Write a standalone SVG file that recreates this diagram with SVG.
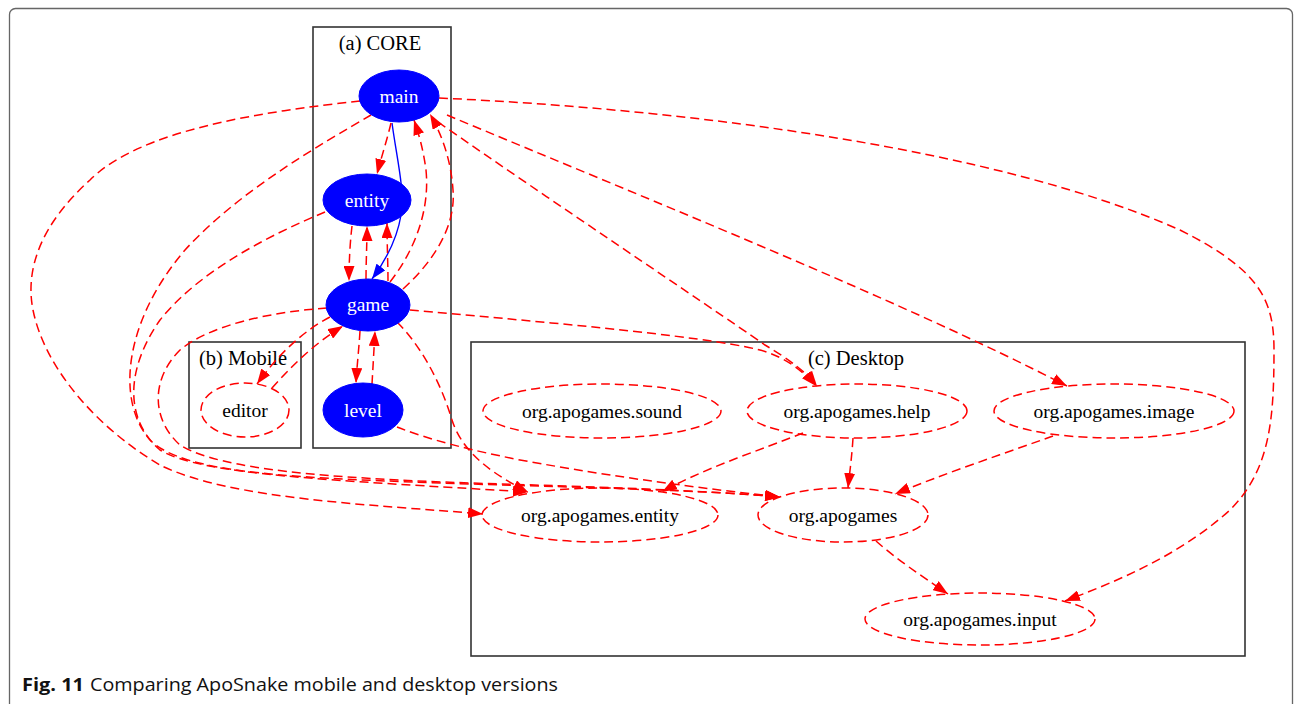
<svg xmlns="http://www.w3.org/2000/svg" width="1295" height="704" viewBox="0 0 1295 704">
<defs>
<marker id="ar" markerUnits="userSpaceOnUse" markerWidth="15" markerHeight="11" viewBox="0 0 15 11" refX="15" refY="5.5" orient="auto"><path d="M0,0 L15,5.5 L0,11 z" fill="#ff0000"/></marker>
<marker id="ab" markerUnits="userSpaceOnUse" markerWidth="15" markerHeight="11" viewBox="0 0 15 11" refX="15" refY="5.5" orient="auto"><path d="M0,0 L15,5.5 L0,11 z" fill="#0000ff"/></marker>
<style>
.e{fill:none;stroke:#ff0000;stroke-width:1.5;stroke-dasharray:9,5;marker-end:url(#ar)}
.b{fill:none;stroke:#0000ff;stroke-width:1.4;marker-end:url(#ab)}
.cl{fill:none;stroke:#333;stroke-width:1.6}
.nb{fill:#0000ff;stroke:#0000ff}
.nd{fill:none;stroke:#ff0000;stroke-width:1.5;stroke-dasharray:9,5}
.t{font-family:"Liberation Serif","Times New Roman",serif;font-size:19.5px;text-anchor:middle}
.c{font-family:"Liberation Serif","Times New Roman",serif;font-size:20.5px;text-anchor:middle;fill:#000}
.w{fill:#ffffff}
.k{fill:#000000}
</style>
</defs>
<rect x="9.5" y="8.5" width="1283" height="730" rx="6" fill="#ffffff" stroke="#666" stroke-width="1.3"/>
<g id="clusters">
<rect class="cl" x="313" y="27" width="138" height="421"/>
<text class="c" x="380" y="50">(a) CORE</text>
<rect class="cl" x="189" y="342" width="112" height="106"/>
<text class="c" x="243" y="365">(b) Mobile</text>
<rect class="cl" x="471" y="342" width="774" height="314"/>
<text class="c" x="856" y="365">(c) Desktop</text>
</g>
<g id="connectors">
<path class="b" d="M392,123 C397,160 405,190 401,215 C397,240 386,260 372,279"/>
<path class="e" d="M391,123 C387,140 382,155 377,174"/>
<path class="e" d="M352,226 C350,243 349,262 349,281"/>
<path class="e" d="M366,279 C366,262 367,245 367,226"/>
<path class="e" d="M388,281 C388,264 387,244 387,223"/>
<path class="e" d="M390,282 C415,250 430,210 426,170 C423,148 419,135 414,120"/>
<path class="e" d="M403,289 C435,260 456,225 453,190 C451,160 442,135 430,114"/>
<path class="e" d="M360,331 C359,348 357,365 356,383"/>
<path class="e" d="M372,384 C373,367 374,349 375,331"/>
<path class="e" d="M330,317 C305,330 280,352 257,384"/>
<path class="e" d="M272,388 C290,368 312,345 343,326"/>
<path class="e" d="M360,101 C260,112 140,130 90,180 C40,225 25,270 33,310 C45,370 100,430 160,465 C230,500 380,505 483,514"/>
<path class="e" d="M371,115 C320,145 240,190 185,250 C125,320 115,400 150,440 C185,475 300,478 470,484 C600,488 700,490 780,497"/>
<path class="e" d="M325,212 C270,235 200,270 160,320 C125,370 125,420 160,450 C200,475 330,480 528,492"/>
<path class="e" d="M327,308 C270,312 210,325 180,350 C150,380 152,420 180,445 C220,470 330,478 470,483 C600,487 700,490 780,497"/>
<path class="e" d="M397,322 C420,345 440,380 452,420 C460,445 480,468 528,492"/>
<path class="e" d="M397,427 C430,440 470,450 520,460 C620,478 700,488 780,497"/>
<path class="e" d="M410,310 C520,320 700,335 760,350 C785,357 802,370 816,386"/>
<path class="e" d="M438,122 C550,200 700,300 765,345 C790,360 806,372 817,386"/>
<path class="e" d="M447,115 C650,200 900,300 1067,386"/>
<path class="e" d="M439,98 C700,110 1000,150 1180,230 C1260,270 1274,300 1274,350 C1274,420 1270,470 1230,510 C1180,555 1120,580 1065,601"/>
<path class="e" d="M803,433 C760,450 700,470 662,492"/>
<path class="e" d="M853,438 C852,455 850,470 848,488"/>
<path class="e" d="M1053,436 C1000,455 940,475 895,494"/>
<path class="e" d="M876,541 C895,558 920,575 948,594"/>
</g>
<g id="node-main"><ellipse class="nb" cx="399" cy="96" rx="40" ry="26"/><text class="t w" x="399" y="103">main</text></g>
<g id="node-entity"><ellipse class="nb" cx="367" cy="200" rx="44" ry="26"/><text class="t w" x="367" y="207">entity</text></g>
<g id="node-game"><ellipse class="nb" cx="368" cy="305" rx="42" ry="26"/><text class="t w" x="368" y="311">game</text></g>
<g id="node-level"><ellipse class="nb" cx="363" cy="410" rx="40" ry="27"/><text class="t w" x="363" y="417">level</text></g>
<g id="node-editor"><ellipse class="nd" cx="245" cy="410" rx="44" ry="27"/><text class="t k" x="245" y="417">editor</text></g>
<g id="node-sound"><ellipse class="nd" cx="602" cy="411" rx="119" ry="27"/><text class="t k" x="602" y="418">org.apogames.sound</text></g>
<g id="node-help"><ellipse class="nd" cx="857" cy="411" rx="110" ry="27"/><text class="t k" x="857" y="418">org.apogames.help</text></g>
<g id="node-image"><ellipse class="nd" cx="1114" cy="411" rx="120" ry="27"/><text class="t k" x="1114" y="418">org.apogames.image</text></g>
<g id="node-apoentity"><ellipse class="nd" cx="600" cy="515" rx="118" ry="27"/><text class="t k" x="600" y="522">org.apogames.entity</text></g>
<g id="node-apogames"><ellipse class="nd" cx="843" cy="515" rx="85" ry="27"/><text class="t k" x="843" y="522">org.apogames</text></g>
<g id="node-input"><ellipse class="nd" cx="980" cy="619" rx="115" ry="26"/><text class="t k" x="980" y="626">org.apogames.input</text></g>
<g id="caption">
<text x="22" y="691" font-family="'Open Sans','Liberation Sans',sans-serif" font-size="18" font-weight="bold" fill="#111" textLength="62" lengthAdjust="spacingAndGlyphs">Fig. 11</text>
<text x="90" y="691" font-family="'Open Sans','Liberation Sans',sans-serif" font-size="18" fill="#111" textLength="468" lengthAdjust="spacingAndGlyphs">Comparing ApoSnake mobile and desktop versions</text>
</g>
</svg>
